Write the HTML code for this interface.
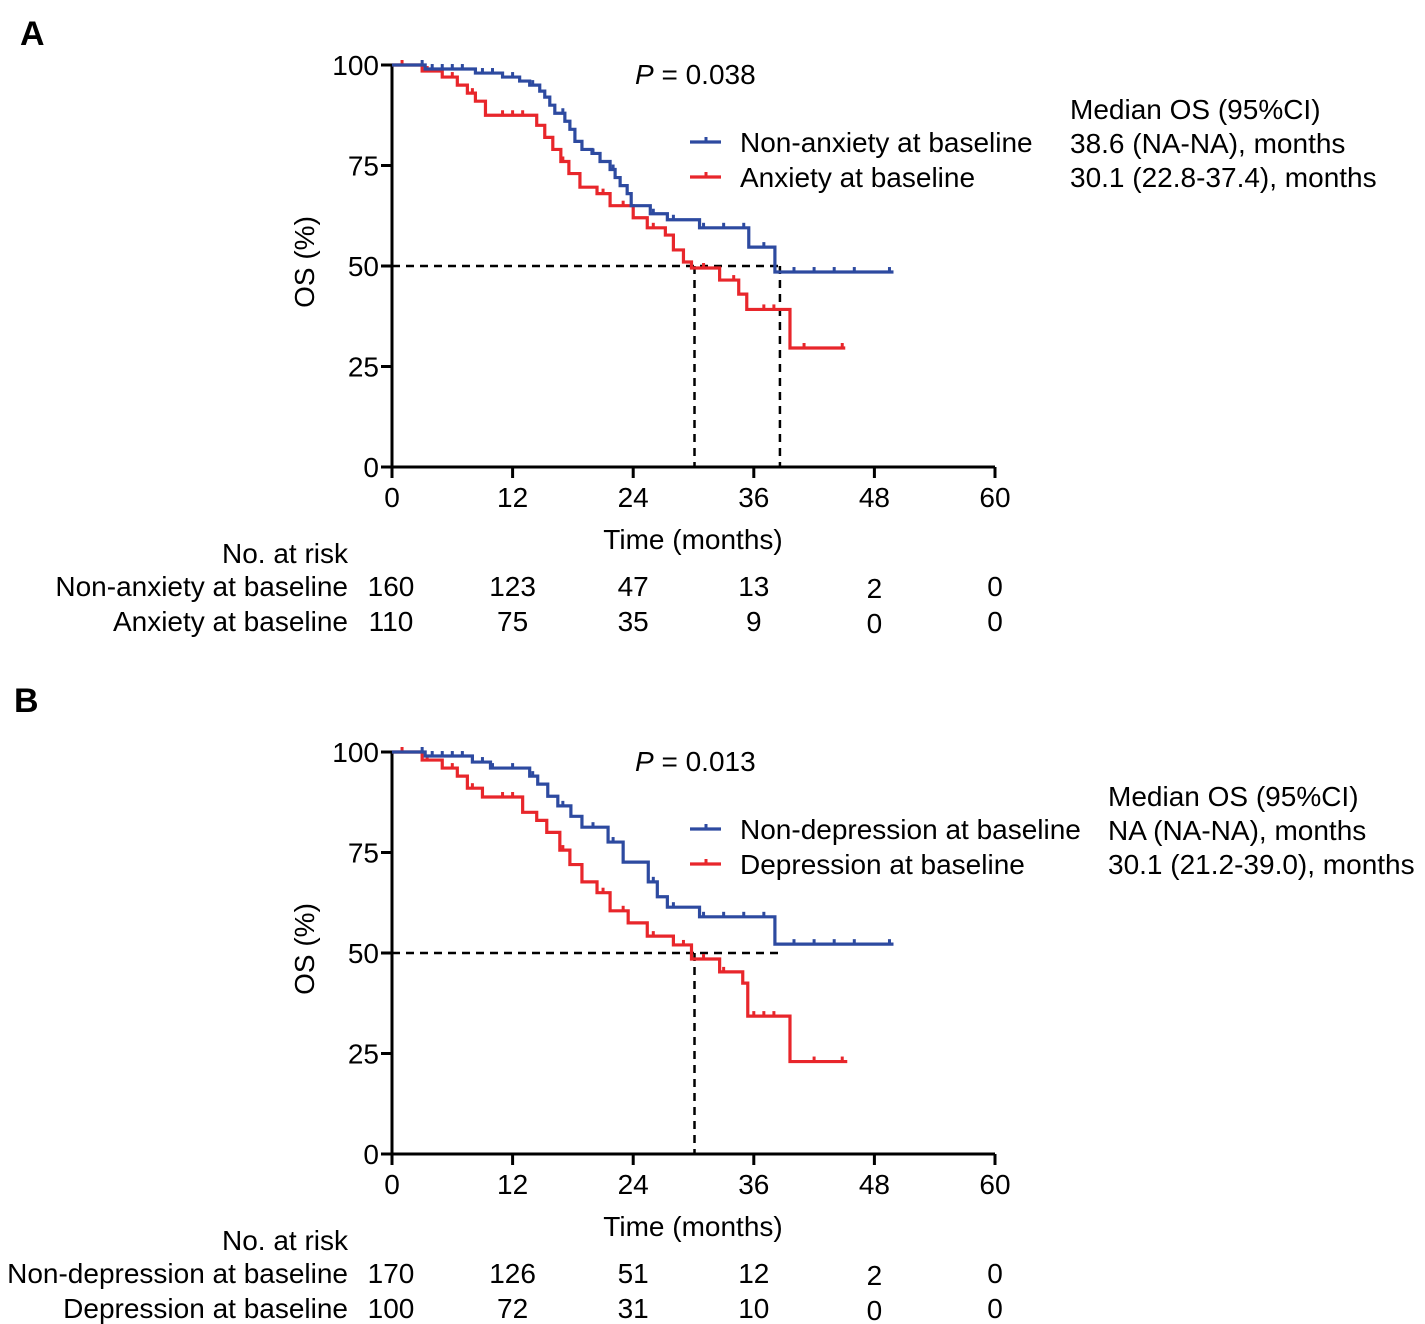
<!DOCTYPE html>
<html><head><meta charset="utf-8"><style>
body{margin:0;background:#fff}
svg{display:block;font-family:"Liberation Sans",Arial,sans-serif}
</style></head><body>
<svg id="fig" width="1425" height="1324" viewBox="0 0 1425 1324">
<text x="20" y="45" font-size="34" font-weight="bold">A</text>
<text x="14" y="712" font-size="34" font-weight="bold">B</text>
</svg>
<script>
const xTicks=[0,12,24,36,48,60];
const yTicks=[0,25,50,75,100];
// Panel A data [month, OS%]
const aBlueSteps=[[0,100],[3.3,99],[8.3,98],[11,97],[12.7,96],[13.7,95],[14.7,93.5],[15.2,92],[15.7,90],[16.2,88],[17.2,86],[17.7,84],[18.2,81],[18.9,79],[19.9,78],[20.7,76],[21.7,74],[22.2,72],[22.7,70],[23.4,68],[23.8,65],[25.7,63],[27.4,61.5],[30.6,59.5],[35.5,54.7],[38.1,48.5]];
const aBlueEnd=49.9;
const aBlueCens=[3,4,5,6,7,9,10,12,14,17,20,22,26,28,31,33,35,37,40,42,44,46,49.5];
const aRedSteps=[[0,100],[3,98.5],[5,97],[6.5,95],[7.5,93],[8.3,91],[9.3,87.5],[14.4,85],[15.2,82],[16,79],[16.8,76],[17.6,73],[18.7,69.6],[20.4,68],[21.7,65],[24,62],[25.4,59.5],[27.2,57.7],[28,54],[29,51],[29.8,49.5],[32.6,46.5],[34.5,43],[35.3,39.2],[39.6,29.6]];
const aRedEnd=45.1;
const aRedCens=[1,3.5,6,8,11,12,13,17,21,23,26,31,34,37,38,41,44.8];
// Panel B data
const bBlueSteps=[[0,100],[3.3,99],[8,97.5],[9.8,96],[13.7,94],[14.5,92],[15.5,89],[16.5,86.6],[17.8,84],[18.9,81.3],[21.5,77.6],[23,72.6],[25.5,67.7],[26.4,64],[27.4,61.4],[30.6,59],[38.1,52.2]];
const bBlueEnd=49.9;
const bBlueCens=[3,4,5,6,7,9,10,12,14,17,20,22,26,28,31,33,35,37,40,42,44,46,49.5];
const bRedSteps=[[0,100],[3,98],[5,96],[6.5,94],[7.5,91],[9,88.8],[13,85],[14.4,83],[15.4,80],[16.7,75.6],[17.7,72],[18.9,67.7],[20.4,65],[21.7,60.5],[23.5,57.5],[25.4,54.2],[28,52],[29.8,48.5],[32.6,45.3],[34.9,42.5],[35.4,34.3],[39.6,23]];
const bRedEnd=45.3;
const bRedCens=[1,3.5,6,8,11,12,17,21,23,26,29,31,33,36,37,38,42,44.8];
const riskTimes=[0,12,24,36,48,60];
const aRisk1=[160,123,47,13,2,0];
const aRisk2=[110,75,35,9,0,0];
const bRisk1=[170,126,51,12,2,0];
const bRisk2=[100,72,31,10,0,0];

const NS="http://www.w3.org/2000/svg";
const svg=document.getElementById('fig');
const FS=28;
function mk(tag,attrs,parent){const e=document.createElementNS(NS,tag);for(const k in attrs)e.setAttribute(k,attrs[k]);(parent||svg).appendChild(e);return e;}
function txt(x,y,s,size,anchor,parent){const t=mk('text',{x:x,y:y,'font-size':size,'text-anchor':anchor||'start'},parent);t.textContent=s;return t;}

function panel(oy,blue,blueEnd,blueC,red,redEnd,redC,pval,leg1,leg2,medX,med1,med2,risk1,risk2,rl1,rl2,vlines,id){
  const X=m=>392+m*10.05, Y=v=>oy+402-v*4.02;
  const g=mk('g',{});
  
  
  const ax=mk('path',{d:`M${X(0)},${Y(100)}V${Y(0)}H${X(60)}`,stroke:'#000','stroke-width':3,fill:'none'},g);
  
  
  yTicks.forEach(v=>{mk('line',{x1:X(0)-11,x2:X(0),y1:Y(v),y2:Y(v),stroke:'#000','stroke-width':3},g);
    const t=txt(379,Y(v)+10,String(v),FS,'end',g);
    
    });
  xTicks.forEach(v=>{mk('line',{x1:X(v),x2:X(v),y1:Y(0),y2:Y(0)+11,stroke:'#000','stroke-width':3},g);
    const t=txt(X(v),Y(0)+40,String(v),FS,'middle',g);
    
    });
  const xt=txt(693,Y(0)+82,'Time (months)',FS,'middle',g);
  
  
  const yt=txt(0,0,'OS (%)',FS,'middle',g);
  yt.setAttribute('transform',`translate(314,${oy+197}) rotate(-90)`);
  
  
  const dl=mk('path',{d:`M${X(0)},${Y(50)}H${X(38.6)}`+vlines.map(m=>`M${X(m)},${Y(50)}V${Y(0)}`).join(''),stroke:'#000','stroke-width':2.5,'stroke-dasharray':'8,6',fill:'none'},g);
  
  
  function curve(steps,end,cens,col,name){
    let d=`M${X(steps[0][0])},${Y(steps[0][1])}`;
    for(let i=1;i<steps.length;i++){d+=`H${X(steps[i][0])}V${Y(steps[i][1])}`;}
    d+=`H${X(end)}`;
    const p=mk('path',{d:d,stroke:col,'stroke-width':3.2,fill:'none'},g);
    
    
    cens.forEach(c=>{let v=steps[0][1];steps.forEach(s=>{if(s[0]<=c)v=s[1];});
      const m=mk('line',{x1:X(c),x2:X(c),y1:Y(v)-5,y2:Y(v),stroke:col,'stroke-width':3},g);
      
      });
  }
  curve(red,redEnd,redC,'#e8262b','red-curve');
  curve(blue,blueEnd,blueC,'#2d4aa0','blue-curve');
  const pt=mk('text',{x:635,y:oy+19,'font-size':FS},g);
  pt.innerHTML='<tspan font-style="italic">P</tspan> = '+pval;
  
  
  [[leg1,'#2d4aa0',77],[leg2,'#e8262b',112]].forEach(([s,c,dy])=>{
    mk('line',{x1:690,x2:721,y1:oy+dy,y2:oy+dy,stroke:c,'stroke-width':3.2},g);
    mk('line',{x1:706,x2:706,y1:oy+dy-5,y2:oy+dy,stroke:c,'stroke-width':3},g);
    const t=txt(740,oy+dy+10,s,FS,'start',g);
    
    });
  [['Median OS (95%CI)',54],[med1,88],[med2,122]].forEach(([s,dy])=>{const t=txt(medX,oy+dy,s,FS,'start',g);
    
    });
  const nr=txt(348,oy+498,'No. at risk',FS,'end',g);
  
  
  [[rl1,risk1,531],[rl2,risk2,566]].forEach(([lab,vals,dy])=>{
    const l=txt(348,oy+dy,lab,FS,'end',g);
    
    
    vals.forEach((v,i)=>{const t=txt(X(riskTimes[i]),oy+dy+(riskTimes[i]==48?2:0),String(v),FS,'middle',g);
      if(i==0)t.setAttribute('x',391);
      
      });
  });
}
panel(65,aBlueSteps,aBlueEnd,aBlueCens,aRedSteps,aRedEnd,aRedCens,'0.038','Non-anxiety at baseline','Anxiety at baseline',1070,'38.6 (NA-NA), months','30.1 (22.8-37.4), months',aRisk1,aRisk2,'Non-anxiety at baseline','Anxiety at baseline',[30.1,38.6],'a');
panel(752,bBlueSteps,bBlueEnd,bBlueCens,bRedSteps,bRedEnd,bRedCens,'0.013','Non-depression at baseline','Depression at baseline',1108,'NA (NA-NA), months','30.1 (21.2-39.0), months',bRisk1,bRisk2,'Non-depression at baseline','Depression at baseline',[30.1],'b');
</script>
</body></html>
